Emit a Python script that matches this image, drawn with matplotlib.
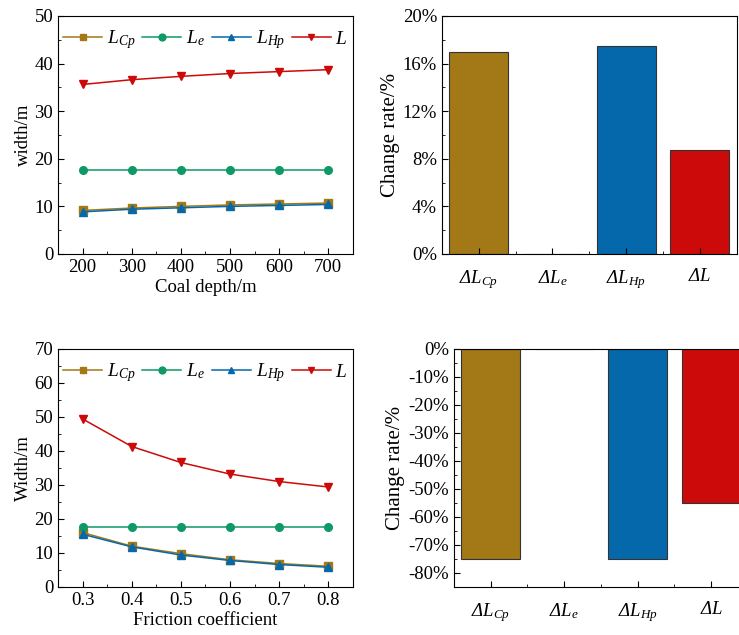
import matplotlib
matplotlib.use("Agg")
from matplotlib import pyplot as plt
from matplotlib.ticker import MultipleLocator, AutoMinorLocator, PercentFormatter

plt.rcParams["font.family"] = ["Liberation Serif", "DejaVu Serif"]
# every math label in this figure is italic, Greek included
plt.rcParams["mathtext.fontset"] = "custom"
plt.rcParams["mathtext.rm"] = "Liberation Serif:italic"
plt.rcParams["mathtext.it"] = "Liberation Serif:italic"
plt.rcParams["font.size"] = 13.5
plt.rcParams["axes.unicode_minus"] = False

# coal depth series
depth = [200, 300, 400, 500, 600, 700]
depth_Lcp = [9.15, 9.65, 10.0, 10.3, 10.5, 10.7]
depth_Le = [17.6, 17.6, 17.6, 17.6, 17.6, 17.6]
depth_Lhp = [8.85, 9.4, 9.7, 10.0, 10.2, 10.4]
depth_L = [35.6, 36.6, 37.3, 37.9, 38.3, 38.7]

# friction coefficient series
friction = [0.3, 0.4, 0.5, 0.6, 0.7, 0.8]
fric_Lcp = [16.0, 12.0, 9.8, 8.0, 6.9, 6.1]
fric_Le = [17.6, 17.6, 17.6, 17.6, 17.6, 17.6]
fric_Lhp = [15.5, 11.8, 9.4, 7.8, 6.6, 5.8]
fric_L = [49.4, 41.3, 36.6, 33.2, 31.0, 29.4]

# change rates
bar_labels = [r"$\Delta L_{Cp}$", r"$\Delta L_{e}$",
              r"$\Delta L_{Hp}$", r"$\Delta L$"]
depth_rate = [0.170, 0.0, 0.175, 0.087]
fric_rate = [-0.75, 0.0, -0.75, -0.55]

colors = ["#A37817", "#0E9966", "#0468AA", "#CC0A0A"]
markers = ["s", "o", "^", "v"]
names = [r"$L_{Cp}$", r"$L_{e}$", r"$L_{Hp}$", r"$L$"]


def line_panel(ax, x, series, ylim, ystep, xlabel, ylabel):
    for y, c, m, n in zip(series, colors, markers, names):
        ax.plot(x, y, color=c, marker=m, markersize=5.5, lw=1.1, label=n)
    ax.set_ylim(*ylim)
    ax.yaxis.set_major_locator(MultipleLocator(ystep))
    ax.yaxis.set_minor_locator(AutoMinorLocator(2))
    ax.xaxis.set_minor_locator(AutoMinorLocator(2))
    ax.set_xticks(x)
    ax.tick_params(which="both", direction="in", top=False, right=False)
    ax.tick_params(which="major", length=4)
    ax.tick_params(which="minor", length=2)
    ax.set_xlabel(xlabel, labelpad=2)
    ax.set_ylabel(ylabel, labelpad=2)
    ax.legend(loc="upper center", ncol=4, frameon=False, fontsize=14,
              handlelength=2.0, handletextpad=0.25, columnspacing=0.35,
              borderaxespad=0.25, markerscale=0.9,
              bbox_to_anchor=(0.5, 1.0))


def bar_panel(ax, rates, ylim, ystep):
    pos = [1, 2, 3, 4]
    ax.bar(pos, rates, width=0.8, color=colors, edgecolor="#333333", linewidth=0.8)
    ax.set_xlim(0.5, 4.5)
    ax.set_ylim(*ylim)
    ax.set_xticks(pos)
    ax.set_xticklabels(bar_labels)
    ax.yaxis.set_major_locator(MultipleLocator(ystep))
    ax.yaxis.set_minor_locator(AutoMinorLocator(2))
    ax.xaxis.set_minor_locator(MultipleLocator(0.5))
    ax.yaxis.set_major_formatter(PercentFormatter(1.0, decimals=0))
    ax.tick_params(which="both", direction="in", top=False, right=False)
    ax.tick_params(which="major", length=4)
    ax.tick_params(which="minor", length=2)
    ax.tick_params(axis="x", which="major", pad=10)
    ax.set_ylabel("Change rate/%", fontsize=15, labelpad=2)


fig = plt.figure(figsize=(7.39, 6.35), dpi=100)

ax1 = fig.add_axes([0.0785, 0.60, 0.399, 0.375])
line_panel(ax1, depth, [depth_Lcp, depth_Le, depth_Lhp, depth_L],
           (0, 50), 10, "Coal depth/m", "width/m")
ax1.set_xlim(150, 750)

ax2 = fig.add_axes([0.598, 0.60, 0.399, 0.375])
bar_panel(ax2, depth_rate, (0, 0.20), 0.04)

ax3 = fig.add_axes([0.0785, 0.0756, 0.399, 0.375])
line_panel(ax3, friction, [fric_Lcp, fric_Le, fric_Lhp, fric_L],
           (0, 70), 10, "Friction coefficient", "Width/m")
ax3.set_xlim(0.25, 0.85)
ax3.set_xticklabels(["0.3", "0.4", "0.5", "0.6", "0.7", "0.8"])

ax4 = fig.add_axes([0.614, 0.0756, 0.398, 0.375])
bar_panel(ax4, fric_rate, (-0.85, 0), 0.10)

fig.savefig("out.png", dpi=100)
